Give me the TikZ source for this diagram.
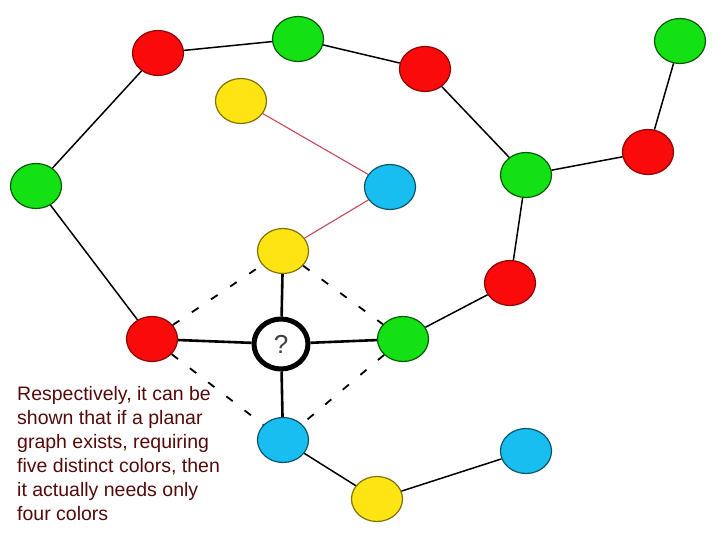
\documentclass[tikz,border=0pt]{standalone}
\usepackage{fontspec}
\setmainfont{Liberation Sans}
\usetikzlibrary{shapes.geometric}
\definecolor{vred}{RGB}{250,10,10}
\definecolor{vgreen}{RGB}{20,225,20}
\definecolor{vyellow}{RGB}{255,228,20}
\definecolor{vblue}{RGB}{25,190,240}
\definecolor{txtred}{RGB}{85,10,10}
\definecolor{redline}{RGB}{200,70,90}
\tikzset{
  vtx/.style={ellipse, minimum width=51pt, minimum height=45pt, inner sep=0pt, line width=1.2pt},
  rv/.style={vtx, fill=vred, draw=vred!55!black},
  gv/.style={vtx, fill=vgreen, draw=vgreen!40!black},
  yv/.style={vtx, fill=vyellow, draw=vyellow!50!black},
  bv/.style={vtx, fill=vblue, draw=vblue!45!black},
  qv/.style={ellipse, minimum width=54pt, minimum height=50pt, inner sep=0pt, fill=white, draw=black, line width=5pt, font=\fontsize{26}{28}\selectfont, text=black!75},
  edge/.style={black, line width=1.5pt},
  cedge/.style={black, line width=2.6pt},
  redge/.style={redline, line width=1.1pt},
  dedge/.style={black, line width=1.8pt, dash pattern=on 8pt off 15pt},
}
\begin{document}
\begin{tikzpicture}[x=1pt, y=-1pt]
  \useasboundingbox (0,0) rectangle (720,540);
  % outer ring
  \node[rv] (r1) at (158,53) {};
  \node[gv] (g1) at (298,39) {};
  \node[rv] (r2) at (425,69) {};
  \node[gv] (g2) at (36,186) {};
  \node[gv] (g3) at (526,175) {};
  \node[rv] (r3) at (648,152) {};
  \node[gv] (g5) at (680,41) {};
  \node[rv] (r4) at (510,283) {};
  % inner part
  \node[yv] (y1) at (241,101) {};
  \node[bv] (b1) at (390,187) {};
  \node[yv] (y2) at (283,251) {};
  \node[rv] (r5) at (152,339) {};
  \node[qv] (q) at (281,344) {?};
  \node[gv] (g4) at (403,339) {};
  \node[bv] (b2) at (283,440) {};
  \node[yv] (y3) at (377,499) {};
  \node[bv] (b3) at (526,451) {};

  \draw[edge] (r1) -- (g1);
  \draw[edge] (g1) -- (r2);
  \draw[edge] (r2) -- (g3);
  \draw[edge] (g3) -- (r3);
  \draw[edge] (r3) -- (g5);
  \draw[edge] (g3) -- (r4);
  \draw[edge] (r4) -- (g4);
  \draw[edge] (r1) -- (g2);
  \draw[edge] (g2) -- (r5);
  \draw[redge] (y1) -- (b1);
  \draw[redge] (b1) -- (y2);
  \draw[cedge] (y2) -- (q);
  \draw[cedge] (r5) -- (q);
  \draw[cedge] (q) -- (g4);
  \draw[cedge] (q) -- (b2);
  \draw[dedge] (r5) -- (y2);
  \draw[dedge] (y2) -- (g4);
  \draw[dedge] (r5) -- (b2);
  \draw[dedge] (g4) -- (b2);
  \draw[edge] (b2) -- (y3);
  \draw[edge] (y3) -- (b3);

  \node[anchor=north west, inner sep=0pt, align=left, text=txtred,
        font=\fontsize{19.5}{24}\selectfont] (txt) at (17,386)
    {Respectively, it can be\\shown that if a planar\\graph exists, requiring\\five distinct colors, then\\it actually needs only\\four colors};
\end{tikzpicture}
\end{document}
